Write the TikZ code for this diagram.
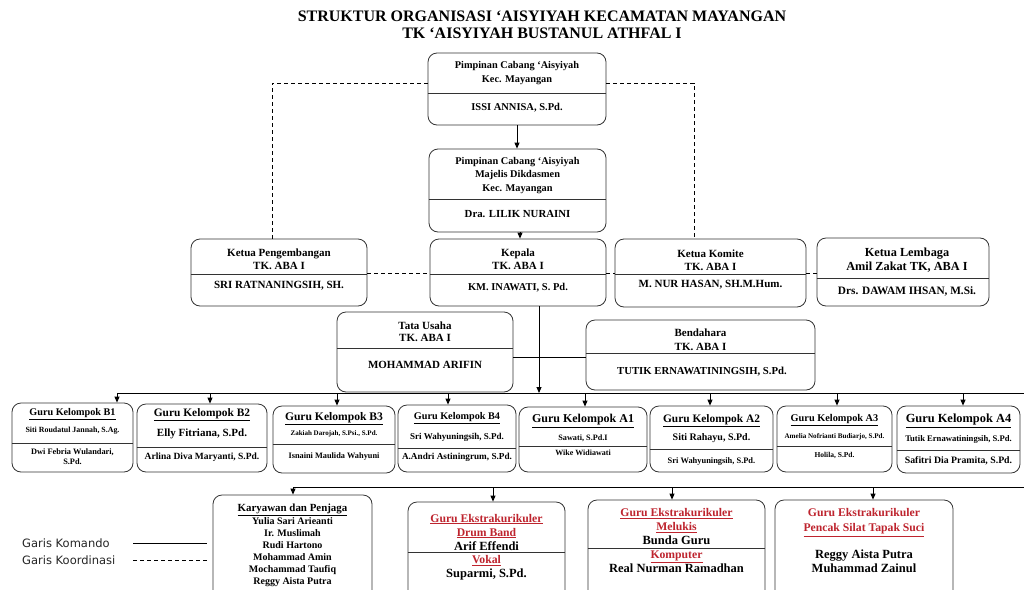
\documentclass[tikz,border=0pt]{standalone}
\usepackage{fontspec}
\setmainfont{Liberation Serif}
\newfontfamily\legendfont{DejaVu Sans}
\usetikzlibrary{arrows.meta}
\definecolor{ekred}{RGB}{190,36,46}
\newcommand\fs[2]{\fontsize{#1}{#2}\selectfont\bfseries}

\begin{document}
\begin{tikzpicture}[x=1pt,y=-1pt,
	box/.style={draw=black!80,line width=0.8pt,rounded corners=9pt},
	div/.style={black!80,line width=0.7pt},
	komando/.style={line width=0.9pt},
	koord/.style={line width=0.9pt,dash pattern=on 4pt off 3pt},
	arr/.style={line width=0.9pt,-{Triangle[length=6pt,width=5pt]}},
	txt/.style={align=center,inner sep=0pt}]
	\useasboundingbox[fill=white] (0,0) rectangle (1024,589);
	\clip (0,0) rectangle (1024,589);

	% judul
	\node[txt,font=\fs{16}{17}] (judul1) at (542,16) {STRUKTUR ORGANISASI ‘AISYIYAH KECAMATAN MAYANGAN};
	\node[txt,font=\fs{16}{17}] (judul2) at (542,33) {TK ‘AISYIYAH BUSTANUL ATHFAL I};

	% kotak-kotak
	\node[box,minimum width=178pt,minimum height=72pt] (pc) at (517,89) {};
	\node[box,minimum width=177pt,minimum height=83pt] (pcm) at (517.5,190.5) {};
	\node[box,minimum width=176pt,minimum height=67pt] (kpg) at (279,272.5) {};
	\node[box,minimum width=176pt,minimum height=67pt] (kpl) at (518,272.5) {};
	\node[box,minimum width=191pt,minimum height=68pt] (kom) at (710.5,273) {};
	\node[box,minimum width=172pt,minimum height=68pt] (lmb) at (903,272) {};
	\node[box,minimum width=176pt,minimum height=80pt] (tu) at (425,352) {};
	\node[box,minimum width=229pt,minimum height=70pt] (bdh) at (700.5,355) {};
	\node[box,minimum width=121pt,minimum height=69pt] (b1) at (72.5,437.5) {};
	\node[box,minimum width=130pt,minimum height=68pt] (b2) at (202,438) {};
	\node[box,minimum width=122pt,minimum height=67pt] (b3) at (334,439.5) {};
	\node[box,minimum width=118pt,minimum height=67pt] (b4) at (457,438.5) {};
	\node[box,minimum width=128pt,minimum height=65pt] (a1) at (583,439.5) {};
	\node[box,minimum width=123pt,minimum height=66pt] (a2) at (711.5,439) {};
	\node[box,minimum width=115pt,minimum height=66pt] (a3) at (834.5,439) {};
	\node[box,minimum width=123pt,minimum height=67pt] (a4) at (958.5,439.5) {};
	\node[box,minimum width=159pt,minimum height=105pt] (kry) at (292.5,547.5) {};
	\node[box,minimum width=157pt,minimum height=98pt] (drb) at (486.5,551) {};
	\node[box,minimum width=177pt,minimum height=100pt] (mlk) at (676.5,550) {};
	\node[box,minimum width=178pt,minimum height=100pt] (pnc) at (864,550) {};

	% garis pemisah
	\foreach \b/\y in {pc/93,pcm/199,kpg/274,kpl/274,kom/274,lmb/278,tu/348,bdh/353,
		b1/443,b2/447,b3/444,b4/448,a1/446,a2/449,a3/446,a4/450,drb/552,mlk/548}
		\draw[div] (\b.west |- 0,\y) -- (\b.east |- 0,\y);

	% isi kotak
	\node[txt,font=\fs{10.3}{14}] (pcH) at (517,73) {Pimpinan Cabang ‘Aisyiyah\\Kec. Mayangan};
	\node[txt,font=\fs{10.5}{13}] (pcN) at (517,108) {ISSI ANNISA, S.Pd.};
	\node[txt,font=\fs{10.3}{13.5}] (pcmH) at (517.5,175.5) {Pimpinan Cabang ‘Aisyiyah\\Majelis Dikdasmen\\Kec. Mayangan};
	\node[txt,font=\fs{10.8}{13}] (pcmN) at (517.5,214) {Dra. LILIK NURAINI};
	\node[txt,font=\fs{11}{13}] (kpgH) at (279,259.5) {Ketua Pengembangan\\TK. ABA I};
	\node[txt,font=\fs{11}{13}] (kpgN) at (279,286) {SRI RATNANINGSIH, SH.};
	\node[txt,font=\fs{11}{13}] (kplH) at (518,259.5) {Kepala\\TK. ABA I};
	\node[txt,font=\fs{10.5}{13}] (kplN) at (518,288) {KM. INAWATI, S. Pd.};
	\node[txt,font=\fs{11}{13}] (komH) at (710.5,260) {Ketua Komite\\TK. ABA I};
	\node[txt,font=\fs{11}{13}] (komN) at (710.5,285) {M. NUR HASAN, SH.M.Hum.};
	\node[txt,font=\fs{12.3}{14}] (lmbH) at (907,260) {Ketua Lembaga\\Amil Zakat TK, ABA I};
	\node[txt,font=\fs{11.3}{13}] (lmbN) at (907,291) {Drs. DAWAM IHSAN, M.Si.};
	\node[txt,font=\fs{11}{12.5}] (tuH) at (425,332) {Tata Usaha\\TK. ABA I};
	\node[txt,font=\fs{11}{13}] (tuN) at (425,365) {MOHAMMAD ARIFIN};
	\node[txt,font=\fs{11}{14}] (bdhH) at (700.5,340) {Bendahara\\TK. ABA I};
	\node[txt,font=\fs{10.7}{13}] (bdhN) at (702,372) {TUTIK ERNAWATININGSIH, S.Pd.};

	% guru kelompok
	\node[txt,font=\fs{10.2}{12}] (b1T) at (72.5,414) {\underline{Guru Kelompok B1}};
	\node[txt,font=\fs{7.9}{10}] (b1N) at (72.5,431) {Siti Roudatul Jannah, S.Ag.};
	\node[txt,font=\fs{8.3}{10}] (b1M) at (72.5,457) {Dwi Febria Wulandari,\\S.Pd.};
	\node[txt,font=\fs{11.4}{12}] (b2T) at (202,415) {\underline{Guru Kelompok B2}};
	\node[txt,font=\fs{11}{12}] (b2N) at (202,434) {Elly Fitriana, S.Pd.};
	\node[txt,font=\fs{9.5}{12}] (b2M) at (202,457) {Arlina Diva Maryanti, S.Pd.};
	\node[txt,font=\fs{11.6}{12}] (b3T) at (334,419) {\underline{Guru Kelompok B3}};
	\node[txt,font=\fs{7}{10}] (b3N) at (334,434) {Zakiah Darojah, S.Psi., S.Pd.};
	\node[txt,font=\fs{8.3}{10}] (b3M) at (334,457) {Isnaini Maulida Wahyuni};
	\node[txt,font=\fs{10.2}{12}] (b4T) at (457,418) {\underline{Guru Kelompok B4}};
	\node[txt,font=\fs{9}{12}] (b4N) at (457,437) {Sri Wahyuningsih, S.Pd.};
	\node[txt,font=\fs{9.2}{12}] (b4M) at (457,457) {A.Andri Astiningrum, S.Pd.};
	\node[txt,font=\fs{12}{12}] (a1T) at (583,421) {\underline{Guru Kelompok A1}};
	\node[txt,font=\fs{8.2}{10}] (a1N) at (583,438) {Sawati, S.Pd.I};
	\node[txt,font=\fs{8}{10}] (a1M) at (583,453) {Wike Widiawati};
	\node[txt,font=\fs{11.4}{12}] (a2T) at (711.5,421) {\underline{Guru Kelompok A2}};
	\node[txt,font=\fs{10}{12}] (a2N) at (711.5,438) {Siti Rahayu, S.Pd.};
	\node[txt,font=\fs{8.4}{10}] (a2M) at (711.5,462) {Sri Wahyuningsih, S.Pd.};
	\node[txt,font=\fs{10.3}{12}] (a3T) at (834.5,420) {\underline{Guru Kelompok A3}};
	\node[txt,font=\fs{7.1}{10}] (a3N) at (834.5,437) {Amelia Nofrianti Budiarjo, S.Pd.};
	\node[txt,font=\fs{7.5}{10}] (a3M) at (834.5,455) {Holila, S.Pd.};
	\node[txt,font=\fs{12.4}{12}] (a4T) at (958.5,421) {\underline{Guru Kelompok A4}};
	\node[txt,font=\fs{8.6}{10}] (a4N) at (958.5,439) {Tutik Ernawatiningsih, S.Pd.};
	\node[txt,font=\fs{9.8}{12}] (a4M) at (958.5,461) {Safitri Dia Pramita, S.Pd.};

	% karyawan dan ekstrakurikuler
	\node[txt,font=\fs{10}{12}] (kryT) at (292.5,545.5) {{\fs{10.9}{12}\underline{Karyawan dan Penjaga}}\\[1pt]Yulia Sari Arieanti\\Ir. Muslimah\\Rudi Hartono\\Mohammad Amin\\Mochammad Taufiq\\Reggy Aista Putra};
	\node[txt,font=\fs{12.5}{14}] (drbH) at (486.5,532) {{\fs{11.7}{14}\color{ekred}\underline{Guru Ekstrakurikuler}}\\{\fs{11.7}{14}\color{ekred}\underline{Drum Band}}\\Arif Effendi};
	\node[txt,font=\fs{12.5}{14}] (drbN) at (486.5,568) {{\fs{11.7}{14}\color{ekred}\underline{Vokal}}\\Suparmi, S.Pd.};
	\node[txt,font=\fs{12.5}{14}] (mlkH) at (676.5,527) {{\fs{11.7}{14}\color{ekred}\underline{Guru Ekstrakurikuler}}\\{\fs{11.7}{14}\color{ekred}\underline{Melukis}}\\Bunda Guru};
	\node[txt,font=\fs{12.5}{14}] (mlkN) at (676.5,562) {{\fs{11.7}{14}\color{ekred}\underline{Komputer}}\\Real Nurman Ramadhan};
	\node[txt,font=\fs{11.7}{15},text=ekred] (pncH) at (864,522.5) {Guru Ekstrakurikuler\\\underline{Pencak Silat Tapak Suci}};
	\node[txt,font=\fs{12.5}{14}] (pncN) at (864,561) {Reggy Aista Putra\\Muhammad Zainul};

	% garis komando
	\draw[arr] (pc.south) -- (pc.south |- pcm.north);
	\coordinate (pcmO) at ([xshift=2.5pt]pcm.south);
	\draw[arr] (pcmO) -- (pcmO |- kpl.north);
	\coordinate (bus1L) at (117,393);
	\coordinate (bus1R) at (1024,393);
	\coordinate (bus2L) at (293,487);
	\coordinate (bus2R) at (1024,487);
	\draw[komando] (bus1L) -- (bus1R);
	\draw[komando] (bus2L) -- (bus2R);
	\coordinate (kplO) at ([xshift=21pt]kpl.south);
	\draw[arr] (kplO) -- (kplO |- bus1L);
	\draw[komando] (tu.east |- 0,357) -- (bdh.west |- 0,357);
	\foreach \b/\dx in {b1/44.5,b2/8,b3/3,b4/-9,a1/2,a2/-1.5,a3/2.5,a4/4.5}{
		\coordinate (t\b) at ([xshift=\dx pt]\b.north);
		\draw[arr] (t\b |- bus1L) -- (t\b);
	}
	\foreach \b/\dx in {kry/0.5,drb/6.5,mlk/-4.5,pnc/9}{
		\coordinate (t\b) at ([xshift=\dx pt]\b.north);
		\draw[arr] (t\b |- bus2L) -- (t\b);
	}

	% garis koordinasi
	\draw[koord] (pc.west |- 0,83) -| ([xshift=-7pt]kpg.north);
	\draw[koord] (pc.east |- 0,83) -| ([xshift=-16.5pt]kom.north);
	\draw[koord] (kpg.east |- 0,273) -- (kpl.west |- 0,273);
	\draw[koord] (kpl.east |- 0,273) -- (kom.west |- 0,273);
	\draw[koord] (kom.east |- 0,273) -- (lmb.west |- 0,273);

	% keterangan
	\node[anchor=west,inner sep=0pt,text=black!85,font=\legendfont\fontsize{11.5}{13}\selectfont] (lgKom) at (22,543) {Garis Komando};
	\node[anchor=west,inner sep=0pt,text=black!85,font=\legendfont\fontsize{11.5}{13}\selectfont] (lgKoo) at (22,560) {Garis Koordinasi};
	\coordinate (lgKomA) at (133,543);
	\coordinate (lgKomB) at (207,543);
	\coordinate (lgKooA) at (133,560);
	\coordinate (lgKooB) at (207,560);
	\draw[komando] (lgKomA) -- (lgKomB);
	\draw[koord] (lgKooA) -- (lgKooB);
\end{tikzpicture}
\end{document}
